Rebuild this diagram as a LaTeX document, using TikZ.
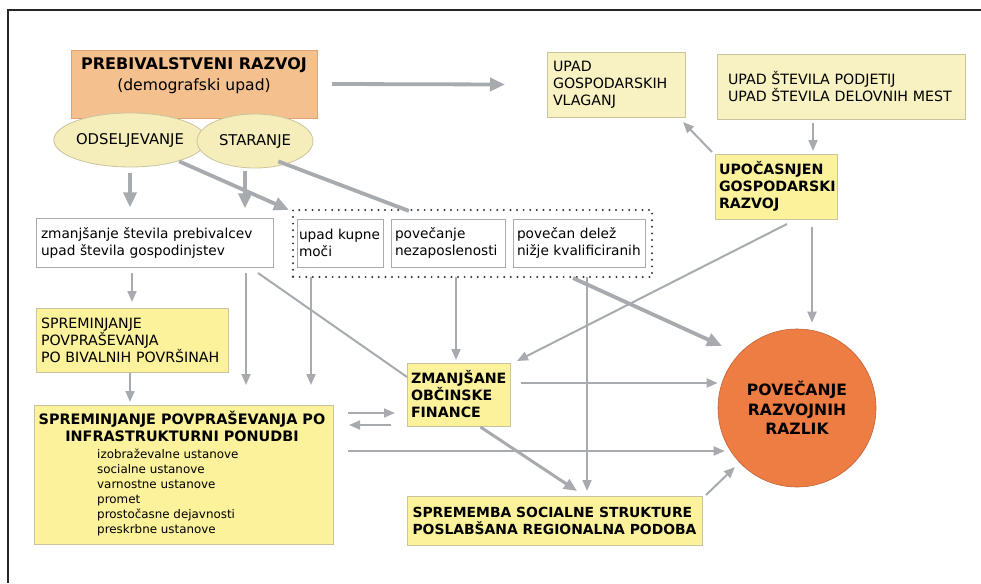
\documentclass[tikz,border=0pt]{standalone}
\usepackage{fontspec}
\setmainfont{DejaVu Sans}
\usetikzlibrary{arrows.meta,shapes.geometric,calc}
\definecolor{peach}{HTML}{F4C08E}
\definecolor{peachborder}{HTML}{DDA474}
\definecolor{paleyel}{HTML}{F8F1C2}
\definecolor{brightyel}{HTML}{FCF29C}
\definecolor{ellyel}{HTML}{F6EEBA}
\definecolor{yelborder}{HTML}{C9C39E}
\definecolor{arrowgrey}{HTML}{A7ABAF}
\definecolor{circorange}{HTML}{EE7D44}
\definecolor{whiteborder}{HTML}{A9ACAF}
\tikzset{
  basebox/.style={rectangle, inner sep=0pt, outer sep=0pt},
  palebox/.style={basebox, draw=yelborder, fill=paleyel, line width=0.8pt},
  brightbox/.style={basebox, draw=yelborder, fill=brightyel, line width=0.8pt},
  whitebox/.style={basebox, draw=whiteborder, fill=white, line width=0.8pt},
  ellbox/.style={ellipse, draw=yelborder, fill=ellyel, inner sep=0pt, line width=0.8pt},
  ltxt/.style={font=\fontsize{13.7}{17}\selectfont, align=left},
  ctxt/.style={font=\fontsize{14.2}{17}\selectfont, align=left},
  btxt/.style={font=\fontsize{14.2}{17}\selectfont\bfseries, align=left},
  bigarrow/.style={draw=arrowgrey, line width=3.8pt, -{Triangle[length=15pt,width=13pt]}},
  bigline/.style={draw=arrowgrey, line width=3.8pt},
  midarrow/.style={draw=arrowgrey, line width=3pt, -{Triangle[length=13pt,width=11pt]}},
  thinarrow/.style={draw=arrowgrey, line width=2pt, -{Triangle[length=11pt,width=9pt]}},
  thinline/.style={draw=arrowgrey, line width=2pt},
}
\begin{document}
\begin{tikzpicture}[x=1pt,y=-1pt]
\useasboundingbox (0,0) rectangle (981,583);
% frame
\coordinate (fb) at (8,583);
\coordinate (fc) at (8,10);
\coordinate (fr) at (981,10);
\draw[line width=1.2pt, black!85] (fb) -- (fc) -- (fr);

% top left
\node[basebox, draw=peachborder, fill=peach, line width=0.8pt, minimum width=246pt, minimum height=68pt] (prebiv) at (194,84) {};
\node[align=center, inner sep=0pt, font=\fontsize{15.6}{21}\selectfont] (prebivtxt) at (194,75.5)
  {{\fontsize{16}{21}\selectfont\bfseries PREBIVALSTVENI RAZVOJ}\\(demografski upad)};
\node[ellbox, minimum width=116pt, minimum height=54pt, font=\fontsize{14.8}{17}\selectfont] (ods) at (130,140) {ODSELJEVANJE};
\node[ellbox, minimum width=116pt, minimum height=54pt, font=\fontsize{14.8}{17}\selectfont] (star) at (255,141) {STARANJE};

% top right
\node[palebox, minimum width=138pt, minimum height=65pt, text width=126pt, ctxt] (ugv) at (616,84.5) {UPAD\\GOSPODARSKIH\\VLAGANJ};
\node[palebox, minimum width=248pt, minimum height=65pt, text width=226pt, ctxt] (ust) at (841,86.5) {UPAD ŠTEVILA PODJETIJ\\UPAD ŠTEVILA DELOVNIH MEST};
\node[brightbox, minimum width=122pt, minimum height=65pt, text width=114pt, btxt] (upoc) at (776,186.5) {UPOČASNJEN\\GOSPODARSKI\\RAZVOJ};

% middle row
\node[whitebox, minimum width=237pt, minimum height=49pt, text width=227pt, ltxt] (zmp) at (154.5,242.5) {zmanjšanje števila prebivalcev\\upad števila gospodinjstev};
\node[rectangle, draw=black!80, line width=2.2pt, line cap=round, dash pattern=on 0pt off 6.6pt, minimum width=359pt, minimum height=67pt] (dot) at (472.5,243.5) {};
\node[whitebox, minimum width=86pt, minimum height=48pt, text width=82pt, ltxt] (ukm) at (340,243) {upad kupne\\moči};
\node[whitebox, minimum width=114pt, minimum height=48pt, text width=106pt, ltxt] (pn) at (448,243) {povečanje\\nezaposlenosti};
\node[whitebox, minimum width=132pt, minimum height=48pt, text width=124pt, ltxt] (pd) at (579,243) {povečan delež\\nižje kvalificiranih};

% lower left
\node[brightbox, minimum width=192pt, minimum height=64pt, text width=182pt, ctxt] (spb) at (132,340) {SPREMINJANJE\\POVPRAŠEVANJA\\PO BIVALNIH POVRŠINAH};
\node[brightbox, minimum width=299pt, minimum height=139pt] (infra) at (183.5,474.5) {};
\node[align=center, inner sep=0pt, font=\fontsize{14.4}{17}\selectfont\bfseries, anchor=north] (infratitle) at (182,411) {SPREMINJANJE POVPRAŠEVANJA PO\\INFRASTRUKTURNI PONUDBI};
\node[align=left, inner sep=0pt, font=\fontsize{11.9}{15}\selectfont, anchor=north west] (infraitems) at (97,449)
  {izobraževalne ustanove\\socialne ustanove\\varnostne ustanove\\promet\\prostočasne dejavnosti\\preskrbne ustanove};

% lower middle
\node[brightbox, minimum width=103pt, minimum height=63pt, text width=95pt, btxt] (zof) at (458.5,394.5) {ZMANJŠANE\\OBČINSKE\\FINANCE};
\node[brightbox, minimum width=295pt, minimum height=49pt, font=\fontsize{13.9}{17}\selectfont\bfseries, align=left] (sss) at (554.5,520.5) {SPREMEMBA SOCIALNE STRUKTURE\\POSLABŠANA REGIONALNA PODOBA};

% circle
\node[circle, draw=circorange!80!black, fill=circorange, line width=0.6pt, minimum size=158pt, inner sep=0pt, align=center, font=\fontsize{15.6}{19.5}\selectfont\bfseries] (circ) at (797,408) {POVEČANJE\\RAZVOJNIH\\RAZLIK};

% connectors
\draw[bigarrow] ($(prebiv.east)+(15,0)$) -- ($(ugv.west)+(-42,0)$);
\draw[thinarrow] ($(ust.south)+(-28,4)$) -- ($(upoc.north)+(37,-3)$);
\draw[thinarrow] ($(upoc.north west)+(-3,-2)$) -- ($(ugv.south east)+(-2,5)$);
\draw[bigarrow] ($(ods.south)+(0,6)$) -- ($(ods.south)+(0,40)$);
\draw[bigarrow] ($(star.south)+(-10,3)$) -- ($(star.south)+(-10,40)$);
\draw[bigarrow] ($(ods.south east)+(-5,2)$) -- ($(dot.north west)+(-3,1)$);
\draw[bigline] ($(star.south east)+(-18,1)$) -- ($(dot.north west)+(117,2)$);
\draw[thinarrow] ($(zmp.south)+(-22.5,6)$) -- ($(spb.north)+(0,-6)$);
\draw[thinarrow] ($(spb.south)+(-2,1)$) -- ($(infra.north)+(-53.5,-3)$);
\draw[thinarrow] ($(zmp.south)+(91.5,6)$) -- ($(infra.north)+(62.5,-20)$);
\draw[thinarrow] ($(ukm.south)+(-29,10)$) -- ($(infra.north)+(127.5,-20)$);
\draw[thinline] ($(zmp.south east)+(-15,6)$) -- ($(zof.north west)+(0,14)$);
\draw[thinarrow] ($(pn.south)+(8,10)$) -- ($(zof.north)+(-2.5,-3)$);
\draw[thinarrow] ($(infra.north east)+(15,8)$) -- ($(zof.west)+(-12,18.5)$);
\draw[thinarrow] ($(zof.west)+(-16,30.5)$) -- ($(infra.north east)+(16,20)$);
\draw[thinarrow] ($(infra.north east)+(15,46)$) -- ($(circ.west)+(7,43)$);
\draw[thinarrow] ($(zof.east)+(11,-11.5)$) -- ($(circ.west)+(0,-25)$);
\draw[midarrow] ($(zof.south)+(22,1)$) -- ($(sss.north)+(22.5,-5)$);
\draw[thinarrow] ($(pd.south)+(8,10)$) -- ($(sss.north)+(32.5,-5)$);
\draw[bigarrow] ($(pd.south)+(-6,11)$) -- ($(circ.north west)+(-19,-6)$);
\draw[thinarrow] ($(upoc.south)+(11,5)$) -- ($(zof.north east)+(7,-2)$);
\draw[thinarrow] ($(upoc.south)+(36,8)$) -- ($(circ.north)+(15,-6)$);
\draw[thinarrow] ($(sss.north east)+(4,-1)$) -- ($(circ.south west)+(-6,3)$);
\end{tikzpicture}
\end{document}
